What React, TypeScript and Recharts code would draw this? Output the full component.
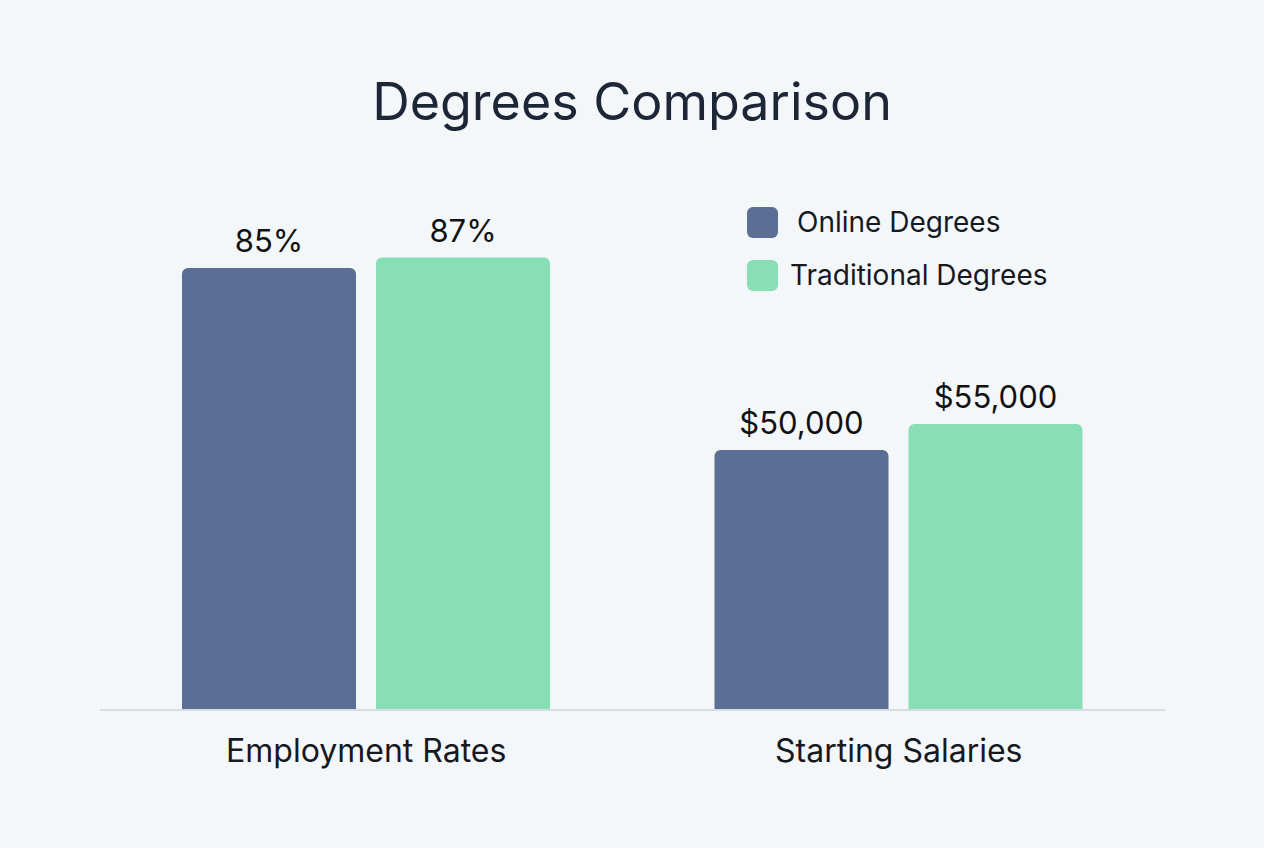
import React from 'react';
import { BarChart, Bar, XAxis, YAxis, LabelList } from 'recharts';

const categories = ['Employment Rates', 'Starting Salaries'];
// salaries are plotted in thousands so both groups share one axis
const onlineValues = [85, 50];
const traditionalValues = [87, 55];
const onlineLabels = ['85%', '$50,000'];
const traditionalLabels = ['87%', '$55,000'];
const seriesNames = ['Online Degrees', 'Traditional Degrees'];

const ONLINE = '#5B6E93';
const TRADITIONAL = '#88DEB5';
const FONT = 'Inter, "Noto Sans", sans-serif';

const data = categories.map((name, i) => ({
  name,
  online: onlineValues[i],
  traditional: traditionalValues[i],
  onlineLabel: onlineLabels[i],
  traditionalLabel: traditionalLabels[i],
}));

const CategoryTick = (props: any) => {
  const { x, y, payload } = props;
  return (
    <text x={x} y={y + 52} textAnchor="middle" fill="#16191f" fontSize={32} fontFamily={FONT}>
      {payload.value}
    </text>
  );
};

const LegendBox = () => {
  const items = [
    { label: seriesNames[0], color: ONLINE, gap: 19 },
    { label: seriesNames[1], color: TRADITIONAL, gap: 12 },
  ];
  return (
    <div style={{ position: 'absolute', top: 206, left: 747, fontFamily: FONT }}>
      {items.map((it) => (
        <div key={it.label} style={{ display: 'flex', alignItems: 'center', height: 32, marginBottom: 21 }}>
          <div style={{ width: 31, height: 31, borderRadius: 6, background: it.color }} />
          <span style={{ marginLeft: it.gap, fontSize: 28, color: '#16191f' }}>{it.label}</span>
        </div>
      ))}
    </div>
  );
};

export default function App() {
  return (
    <div style={{ position: 'fixed', left: 0, top: 0, width: 1264, height: 848, background: '#F3F7FA', overflow: 'hidden' }}>
      <div
        style={{
          position: 'absolute',
          top: 70,
          left: 0,
          width: 1264,
          textAlign: 'center',
          fontFamily: FONT,
          fontSize: 52,
          color: '#1d2636',
        }}
      >
        Degrees Comparison
      </div>
      <BarChart
        width={1264}
        height={848}
        data={data}
        margin={{ top: 190, right: 99, left: 100, bottom: 78 }}
        barGap={20}
        barSize={174}
      >
        <XAxis
          dataKey="name"
          axisLine={{ stroke: '#D6DCE3', strokeWidth: 2 }}
          tickLine={false}
          tickSize={0}
          tickMargin={0}
          height={60}
          tick={<CategoryTick />}
        />
        <YAxis hide domain={[0, 100]} />
        <Bar dataKey="online" name={seriesNames[0]} fill={ONLINE} radius={[6, 6, 0, 0]} isAnimationActive={false}>
          <LabelList dataKey="onlineLabel" position="top" offset={16} fill="#111" fontSize={31} fontFamily={FONT} />
        </Bar>
        <Bar dataKey="traditional" name={seriesNames[1]} fill={TRADITIONAL} radius={[6, 6, 0, 0]} isAnimationActive={false}>
          <LabelList dataKey="traditionalLabel" position="top" offset={16} fill="#111" fontSize={31} fontFamily={FONT} />
        </Bar>
      </BarChart>
      <LegendBox />
    </div>
  );
}
